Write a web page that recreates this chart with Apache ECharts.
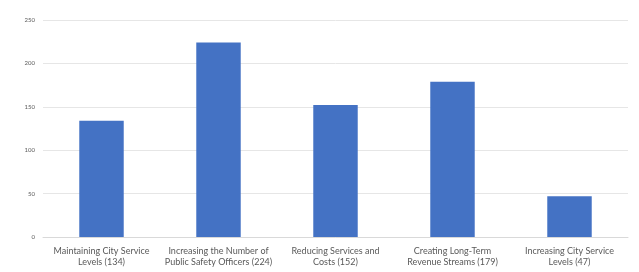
<!DOCTYPE html>
<html><head><meta charset="utf-8">
<script src="https://cdn.jsdelivr.net/npm/echarts@6/dist/echarts.min.js"></script>
<style>html,body{margin:0;padding:0;background:#fff}#c{width:639px;height:272px}</style>
</head><body><div id="c"></div>
<script>
const categories = [
  "Maintaining City Service\nLevels (134)",
  "Increasing the Number of\nPublic Safety Officers (224)",
  "Reducing Services and\nCosts (152)",
  "Creating Long-Term\nRevenue Streams (179)",
  "Increasing City Service\nLevels (47)"
];
const values = [134, 224, 152, 179, 47];
const yTicks = { min: 0, max: 250, interval: 50 };

const chart = echarts.init(document.getElementById('c'));
chart.setOption({
  animation: false,
  grid: { left: 43, right: 11, top: 20, bottom: 35 },
  xAxis: {
    type: 'category', data: categories,
    axisLine: { lineStyle: { color: '#d9d9d9' } },
    axisTick: { show: false },
    axisLabel: { color: '#595959', fontSize: 9, fontFamily: 'Lato', lineHeight: 11, margin: 9, interval: 0 }
  },
  yAxis: {
    type: 'value', min: yTicks.min, max: yTicks.max, interval: yTicks.interval,
    axisLine: { show: false }, axisTick: { show: false },
    axisLabel: { color: '#595959', fontSize: 6, fontFamily: 'Lato', margin: 8 },
    splitLine: { lineStyle: { color: '#e6e6e6', width: 1 } }
  },
  series: [{
    type: 'bar', data: values, barWidth: '38%',
    itemStyle: { color: '#4472C4' }
  }]
});
</script></body></html>
